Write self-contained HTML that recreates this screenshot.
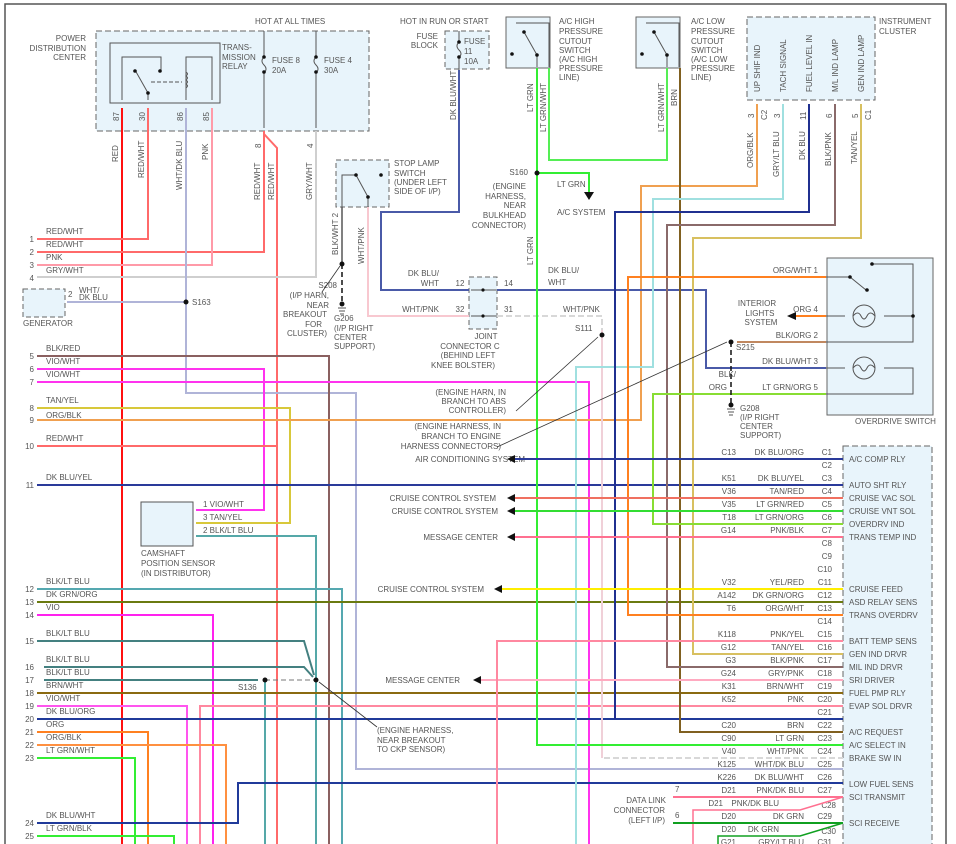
<!DOCTYPE html>
<html><head><meta charset="utf-8"><style>
html,body{margin:0;padding:0;background:#fff}
svg{display:block}
text{font-family:"Liberation Sans",sans-serif;font-size:8px;fill:#555}
.w{fill:none;stroke-width:2}
</style></head><body>
<svg width="956" height="844" viewBox="0 0 956 844" xmlns="http://www.w3.org/2000/svg">
<rect width="956" height="844" fill="#fff"/>
<path d="M5 844V4H946V844" fill="none" stroke="#555" stroke-width="1.5"/>

<rect x="96" y="31" width="273" height="100" fill="#e8f4fb" stroke="#666" stroke-dasharray="6,3"/>
<rect x="110" y="43" width="110" height="60" fill="none" stroke="#555"/>
<text x="86" y="41" text-anchor="end">POWER</text>
<text x="86" y="51" text-anchor="end">DISTRIBUTION</text>
<text x="86" y="60" text-anchor="end">CENTER</text>
<text x="222" y="50">TRANS-</text><text x="222" y="60">MISSION</text><text x="222" y="69">RELAY</text>
<text x="255" y="24">HOT AT ALL TIMES</text>
<path d="M122 100V57H161V71M135 70L148 93M148 93V100M186 100V57H212V100" fill="none" stroke="#555"/>
<path d="M151 82H182" stroke="#555" stroke-dasharray="4,2"/>
<circle cx="135" cy="71" r="1.8" fill="#111"/><circle cx="160" cy="71" r="1.8" fill="#111"/><circle cx="148" cy="93" r="1.8" fill="#111"/>
<path d="M186 72q3 2 0 4q3 2 0 4q3 2 0 4q3 2 0 4" fill="none" stroke="#555"/>
<path d="M264 31V57M264 72V128M316 31V57M316 72V128" stroke="#555"/>
<path d="M264 57q-4 4 0 8q4 4 0 8M316 57q-4 4 0 8q4 4 0 8" fill="none" stroke="#555"/>
<circle cx="264" cy="57" r="1.8" fill="#111"/><circle cx="264" cy="72" r="1.8" fill="#111"/><circle cx="316" cy="57" r="1.8" fill="#111"/><circle cx="316" cy="72" r="1.8" fill="#111"/>
<text x="272" y="63">FUSE 8</text><text x="272" y="73">20A</text>
<text x="324" y="63">FUSE 4</text><text x="324" y="73">30A</text>
<text transform="translate(119,121) rotate(-90)">87</text><text transform="translate(145,121) rotate(-90)">30</text>
<text transform="translate(183,121) rotate(-90)">86</text><text transform="translate(209,121) rotate(-90)">85</text>
<text transform="translate(261,148) rotate(-90)">8</text><text transform="translate(313,148) rotate(-90)">4</text>

<rect x="445" y="31" width="44" height="38" fill="#e8f4fb" stroke="#666" stroke-dasharray="5,3"/>
<text x="400" y="24">HOT IN RUN OR START</text>
<text x="438" y="39" text-anchor="end">FUSE</text><text x="438" y="48" text-anchor="end">BLOCK</text>
<path d="M459 31V42M459 57V70" stroke="#555"/><path d="M459 42q-4 4 0 8q4 4 0 7" fill="none" stroke="#555"/>
<circle cx="459" cy="42" r="1.8" fill="#111"/><circle cx="459" cy="57" r="1.8" fill="#111"/>
<text x="464" y="44">FUSE</text><text x="464" y="54">11</text><text x="464" y="64">10A</text>

<rect x="506" y="17" width="44" height="51" fill="#e8f4fb" stroke="#666"/>
<path d="M516 23H549V67M524 32L537 55V67" fill="none" stroke="#555"/>
<circle cx="524" cy="32" r="1.8" fill="#111"/><circle cx="537" cy="55" r="1.8" fill="#111"/><circle cx="512" cy="54" r="1.8" fill="#111"/>
<text x="559" y="24">A/C HIGH</text><text x="559" y="34">PRESSURE</text><text x="559" y="44">CUTOUT</text><text x="559" y="53">SWITCH</text><text x="559" y="62">(A/C HIGH</text><text x="559" y="71">PRESSURE</text><text x="559" y="80">LINE)</text>
<rect x="636" y="17" width="44" height="51" fill="#e8f4fb" stroke="#666"/>
<path d="M646 23H679V67M654 32L667 55V67" fill="none" stroke="#555"/>
<circle cx="654" cy="32" r="1.8" fill="#111"/><circle cx="667" cy="55" r="1.8" fill="#111"/><circle cx="642" cy="54" r="1.8" fill="#111"/>
<text x="691" y="24">A/C LOW</text><text x="691" y="34">PRESSURE</text><text x="691" y="44">CUTOUT</text><text x="691" y="53">SWITCH</text><text x="691" y="62">(A/C LOW</text><text x="691" y="71">PRESSURE</text><text x="691" y="80">LINE)</text>

<rect x="747" y="17" width="128" height="83" fill="#e8f4fb" stroke="#666" stroke-dasharray="6,3"/>
<text x="879" y="24">INSTRUMENT</text><text x="879" y="34">CLUSTER</text>
<text transform="translate(760,92) rotate(-90)">UP SHIF IND</text>
<text transform="translate(786,92) rotate(-90)">TACH SIGNAL</text>
<text transform="translate(812,92) rotate(-90)">FUEL LEVEL IN</text>
<text transform="translate(838,92) rotate(-90)">M/L IND LAMP</text>
<text transform="translate(864,92) rotate(-90)">GEN IND LAMP</text>
<text transform="translate(754,118) rotate(-90)">3</text><text transform="translate(767,120) rotate(-90)">C2</text>
<text transform="translate(780,118) rotate(-90)">3</text><text transform="translate(806,120) rotate(-90)">11</text>
<text transform="translate(832,118) rotate(-90)">6</text><text transform="translate(858,118) rotate(-90)">5</text><text transform="translate(871,120) rotate(-90)">C1</text>

<g>
<text transform="translate(118,162) rotate(-90)">RED</text>
<text transform="translate(144,178) rotate(-90)">RED/WHT</text>
<text transform="translate(182,190) rotate(-90)">WHT/DK BLU</text>
<text transform="translate(208,160) rotate(-90)">PNK</text>
<text transform="translate(260,200) rotate(-90)">RED/WHT</text>
<text transform="translate(274,200) rotate(-90)">RED/WHT</text>
<text transform="translate(312,200) rotate(-90)">GRY/WHT</text>
<text transform="translate(456,120) rotate(-90)">DK BLU/WHT</text>
<text transform="translate(533,112) rotate(-90)">LT GRN</text>
<text transform="translate(546,132) rotate(-90)">LT GRN/WHT</text>
<text transform="translate(664,132) rotate(-90)">LT GRN/WHT</text>
<text transform="translate(677,106) rotate(-90)">BRN</text>
<text transform="translate(753,168) rotate(-90)">ORG/BLK</text>
<text transform="translate(779,177) rotate(-90)">GRY/LT BLU</text>
<text transform="translate(805,160) rotate(-90)">DK BLU</text>
<text transform="translate(831,166) rotate(-90)">BLK/PNK</text>
<text transform="translate(857,164) rotate(-90)">TAN/YEL</text>
<text transform="translate(533,265) rotate(-90)">LT GRN</text>
<text transform="translate(338,255) rotate(-90)">BLK/WHT 2</text>
<text transform="translate(364,264) rotate(-90)">WHT/PNK</text>
</g>

<rect x="336" y="160" width="53" height="47" fill="#e8f4fb" stroke="#666" stroke-dasharray="5,3"/>
<path d="M342 207V175H356L368 197V207" fill="none" stroke="#555"/>
<circle cx="356" cy="175" r="1.8" fill="#111"/><circle cx="368" cy="197" r="1.8" fill="#111"/><circle cx="381" cy="175" r="1.8" fill="#111"/>
<text x="394" y="166">STOP LAMP</text><text x="394" y="176">SWITCH</text><text x="394" y="185">(UNDER LEFT</text><text x="394" y="194">SIDE OF I/P)</text>

<rect x="23" y="289" width="42" height="28" fill="#e8f4fb" stroke="#666" stroke-dasharray="5,3"/>
<text x="23" y="326">GENERATOR</text>
<text x="68" y="297">2</text><text x="79" y="293">WHT/</text><text x="79" y="300">DK BLU</text>

<rect x="469" y="277" width="28" height="52" fill="#e8f4fb" stroke="#666" stroke-dasharray="5,3"/>
<path d="M471 290H496M471 316H496" stroke="#555"/>
<circle cx="483" cy="290" r="1.6" fill="#111"/><circle cx="483" cy="316" r="1.6" fill="#111"/>
<text x="460" y="286" text-anchor="middle">12</text><text x="460" y="312" text-anchor="middle">32</text>
<text x="504" y="286">14</text><text x="504" y="312">31</text>
<text x="439" y="276" text-anchor="end">DK BLU/</text><text x="439" y="286" text-anchor="end">WHT</text>
<text x="439" y="312" text-anchor="end">WHT/PNK</text>
<text x="486" y="339" text-anchor="middle">JOINT</text><text x="470" y="349" text-anchor="middle">CONNECTOR C</text><text x="468" y="358" text-anchor="middle">(BEHIND LEFT</text><text x="463" y="368" text-anchor="middle">KNEE BOLSTER)</text>

<rect x="827" y="258" width="106" height="157" fill="#e8f4fb" stroke="#666"/>
<text x="855" y="424">OVERDRIVE SWITCH</text>
<path d="M826 277H850L866 290M872 264H913V342H826M826 316H845M884 316H913M826 368H845M884 368H913V394H826" fill="none" stroke="#555"/>
<circle cx="850" cy="277" r="1.8" fill="#111"/><circle cx="867" cy="290" r="1.8" fill="#111"/><circle cx="872" cy="264" r="1.8" fill="#111"/><circle cx="913" cy="316" r="1.8" fill="#111"/>
<circle cx="864" cy="316" r="11" fill="none" stroke="#555"/><circle cx="864" cy="368" r="11" fill="none" stroke="#555"/>
<path d="M853 316q5-6 8 0q3 6 6 0q3-6 8 0M853 368q5-6 8 0q3 6 6 0q3-6 8 0" fill="none" stroke="#555"/>
<text x="818" y="273" text-anchor="end">ORG/WHT  1</text>
<text x="818" y="312" text-anchor="end">ORG  4</text>
<text x="818" y="338" text-anchor="end">BLK/ORG  2</text>
<text x="818" y="364" text-anchor="end">DK BLU/WHT  3</text>
<text x="818" y="390" text-anchor="end">LT GRN/ORG  5</text>
<text x="757" y="306" text-anchor="middle">INTERIOR</text><text x="760" y="316" text-anchor="middle">LIGHTS</text><text x="761" y="325" text-anchor="middle">SYSTEM</text>
<text x="736" y="377" text-anchor="end">BLK/</text><text x="727" y="390" text-anchor="end">ORG</text>
<text x="736" y="350">S215</text>
<text x="740" y="411">G208</text><text x="740" y="420">(I/P RIGHT</text><text x="740" y="429">CENTER</text><text x="740" y="438">SUPPORT)</text>

<rect x="141" y="502" width="52" height="44" fill="#e8f4fb" stroke="#555"/>
<text x="141" y="556">CAMSHAFT</text><text x="141" y="566">POSITION SENSOR</text><text x="141" y="576">(IN DISTRIBUTOR)</text>
<text x="203" y="507">1  VIO/WHT</text><text x="203" y="520">3  TAN/YEL</text><text x="203" y="533">2  BLK/LT BLU</text>

<rect x="843" y="446" width="89" height="400" fill="#e8f4fb" stroke="#666" stroke-dasharray="6,3"/>
<g>
<text x="849" y="462">A/C COMP RLY</text><text x="849" y="488">AUTO SHT RLY</text><text x="849" y="501">CRUISE VAC SOL</text>
<text x="849" y="514">CRUISE VNT SOL</text><text x="849" y="527">OVERDRV IND</text><text x="849" y="540">TRANS TEMP IND</text>
<text x="849" y="592">CRUISE FEED</text><text x="849" y="605">ASD RELAY SENS</text><text x="849" y="618">TRANS OVERDRV</text>
<text x="849" y="644">BATT TEMP SENS</text><text x="849" y="657">GEN IND DRVR</text><text x="849" y="670">MIL IND DRVR</text>
<text x="849" y="683">SRI DRIVER</text><text x="849" y="696">FUEL PMP RLY</text><text x="849" y="709">EVAP SOL DRVR</text>
<text x="849" y="735">A/C REQUEST</text><text x="849" y="748">A/C SELECT IN</text><text x="849" y="761">BRAKE SW IN</text>
<text x="849" y="787">LOW FUEL SENS</text><text x="849" y="800">SCI TRANSMIT</text><text x="849" y="826">SCI RECEIVE</text>
</g>
<g text-anchor="end">
<text x="832" y="455">C1</text><text x="832" y="468">C2</text><text x="832" y="481">C3</text><text x="832" y="494">C4</text><text x="832" y="507">C5</text><text x="832" y="520">C6</text><text x="832" y="533">C7</text><text x="832" y="546">C8</text><text x="832" y="559">C9</text><text x="832" y="572">C10</text><text x="832" y="585">C11</text><text x="832" y="598">C12</text><text x="832" y="611">C13</text><text x="832" y="624">C14</text><text x="832" y="637">C15</text><text x="832" y="650">C16</text><text x="832" y="663">C17</text><text x="832" y="676">C18</text><text x="832" y="689">C19</text><text x="832" y="702">C20</text><text x="832" y="715">C21</text><text x="832" y="728">C22</text><text x="832" y="741">C23</text><text x="832" y="754">C24</text><text x="832" y="767">C25</text><text x="832" y="780">C26</text><text x="832" y="793">C27</text><text x="836" y="808">C28</text><text x="832" y="819">C29</text><text x="836" y="834">C30</text><text x="832" y="845">C31</text>
<text x="804" y="455">DK BLU/ORG</text><text x="804" y="481">DK BLU/YEL</text><text x="804" y="494">TAN/RED</text><text x="804" y="507">LT GRN/RED</text><text x="804" y="520">LT GRN/ORG</text><text x="804" y="533">PNK/BLK</text>
<text x="804" y="585">YEL/RED</text><text x="804" y="598">DK GRN/ORG</text><text x="804" y="611">ORG/WHT</text><text x="804" y="637">PNK/YEL</text><text x="804" y="650">TAN/YEL</text><text x="804" y="663">BLK/PNK</text><text x="804" y="676">GRY/PNK</text><text x="804" y="689">BRN/WHT</text><text x="804" y="702">PNK</text><text x="804" y="728">BRN</text><text x="804" y="741">LT GRN</text><text x="804" y="754">WHT/PNK</text><text x="804" y="767">WHT/DK BLU</text><text x="804" y="780">DK BLU/WHT</text><text x="804" y="793">PNK/DK BLU</text><text x="804" y="819">DK GRN</text><text x="804" y="845">GRY/LT BLU</text>
<text x="736" y="455">C13</text><text x="736" y="481">K51</text><text x="736" y="494">V36</text><text x="736" y="507">V35</text><text x="736" y="520">T18</text><text x="736" y="533">G14</text><text x="736" y="585">V32</text><text x="736" y="598">A142</text><text x="736" y="611">T6</text><text x="736" y="637">K118</text><text x="736" y="650">G12</text><text x="736" y="663">G3</text><text x="736" y="676">G24</text><text x="736" y="689">K31</text><text x="736" y="702">K52</text><text x="736" y="728">C20</text><text x="736" y="741">C90</text><text x="736" y="754">V40</text><text x="736" y="767">K125</text><text x="736" y="780">K226</text><text x="736" y="793">D21</text><text x="736" y="819">D20</text><text x="736" y="845">G21</text>
<text x="779" y="806">PNK/DK BLU</text><text x="723" y="806">D21</text><text x="779" y="832">DK GRN</text><text x="736" y="832">D20</text>
<text x="525" y="462">AIR CONDITIONING SYSTEM</text><text x="496" y="501">CRUISE CONTROL SYSTEM</text><text x="498" y="514">CRUISE CONTROL SYSTEM</text><text x="498" y="540">MESSAGE CENTER</text><text x="484" y="592">CRUISE CONTROL SYSTEM</text><text x="460" y="683">MESSAGE CENTER</text>
<text x="666" y="803">DATA LINK</text><text x="665" y="813">CONNECTOR</text><text x="665" y="823">(LEFT I/P)</text>
<text x="528" y="175">S160</text><text x="526" y="189">(ENGINE</text><text x="526" y="199">HARNESS,</text><text x="526" y="208">NEAR</text><text x="526" y="218">BULKHEAD</text><text x="526" y="228">CONNECTOR)</text>
<text x="337" y="288">S208</text><text x="329" y="298">(I/P HARN,</text><text x="329" y="308">NEAR</text><text x="327" y="317">BREAKOUT</text><text x="322" y="327">FOR</text><text x="327" y="336">CLUSTER)</text>
<text x="506" y="395">(ENGINE HARN, IN</text><text x="506" y="404">BRANCH TO ABS</text><text x="506" y="413">CONTROLLER)</text>
<text x="501" y="429">(ENGINE HARNESS, IN</text><text x="501" y="439">BRANCH TO ENGINE</text><text x="501" y="449">HARNESS CONNECTORS)</text>
</g>
<text x="557" y="187">LT GRN</text><text x="557" y="215">A/C SYSTEM</text>
<text x="548" y="273">DK BLU/</text><text x="548" y="285">WHT</text><text x="563" y="312">WHT/PNK</text><text x="575" y="331">S111</text>
<text x="192" y="305">S163</text>
<text x="334" y="321">G206</text><text x="334" y="331">(I/P RIGHT</text><text x="334" y="340">CENTER</text><text x="334" y="349">SUPPORT)</text>
<text x="238" y="690">S136</text>
<text x="377" y="733">(ENGINE HARNESS,</text><text x="377" y="743">NEAR BREAKOUT</text><text x="377" y="752">TO CKP SENSOR)</text>
<text x="675" y="792">7</text><text x="675" y="818">6</text>

<g>
<text x="46" y="234">RED/WHT</text><text x="46" y="247">RED/WHT</text><text x="46" y="260">PNK</text><text x="46" y="273">GRY/WHT</text>
<text x="46" y="351">BLK/RED</text><text x="46" y="364">VIO/WHT</text><text x="46" y="377">VIO/WHT</text><text x="46" y="403">TAN/YEL</text><text x="46" y="418">ORG/BLK</text><text x="46" y="441">RED/WHT</text><text x="46" y="480">DK BLU/YEL</text>
<text x="46" y="584">BLK/LT BLU</text><text x="46" y="597">DK GRN/ORG</text><text x="46" y="610">VIO</text><text x="46" y="636">BLK/LT BLU</text><text x="46" y="662">BLK/LT BLU</text><text x="46" y="675">BLK/LT BLU</text><text x="46" y="688">BRN/WHT</text><text x="46" y="701">VIO/WHT</text><text x="46" y="714">DK BLU/ORG</text><text x="46" y="727">ORG</text><text x="46" y="740">ORG/BLK</text><text x="46" y="753">LT GRN/WHT</text><text x="46" y="818">DK BLU/WHT</text><text x="46" y="831">LT GRN/BLK</text>
</g>
<g text-anchor="end">
<text x="34" y="242">1</text><text x="34" y="255">2</text><text x="34" y="268">3</text><text x="34" y="281">4</text><text x="34" y="359">5</text><text x="34" y="372">6</text><text x="34" y="385">7</text><text x="34" y="411">8</text><text x="34" y="423">9</text><text x="34" y="449">10</text><text x="34" y="488">11</text><text x="34" y="592">12</text><text x="34" y="605">13</text><text x="34" y="618">14</text><text x="34" y="644">15</text><text x="34" y="670">16</text><text x="34" y="683">17</text><text x="34" y="696">18</text><text x="34" y="709">19</text><text x="34" y="722">20</text><text x="34" y="735">21</text><text x="34" y="748">22</text><text x="34" y="761">23</text><text x="34" y="826">24</text><text x="34" y="839">25</text>
</g>

<g class="w">
<path d="M122 108V844" stroke="#ff1010"/>
<path d="M37 239H148V108" stroke="#ff6a6a"/>
<path d="M37 252H264V131" stroke="#ff6a6a"/>
<path d="M264 134L277 148V844" stroke="#ff6a6a"/>
<path d="M37 265H212V108" stroke="#ff9aa8"/>
<path d="M37 277H316V131" stroke="#cfcfcf"/>
<path d="M186 108V393H356V769H843" stroke="#b0b4d8"/>
<path d="M67 302H186" stroke="#b0b4d8"/>
<path d="M37 356H329V844" stroke="#8a6060"/>
<path d="M37 369H264V510H196" stroke="#ff33ee"/>
<path d="M37 382H589V844" stroke="#ff33ee"/>
<path d="M37 408H290V523H196" stroke="#d8c83a"/>
<path d="M37 420H641V186H757V104" stroke="#f0a050"/>
<path d="M37 446H277" stroke="#ff6a6a"/>
<path d="M37 485H843" stroke="#2a3a9a"/>
<path d="M196 536H316V844" stroke="#55a8a8"/>
<path d="M37 589H342V844" stroke="#55a8b0"/>
<path d="M37 602H843" stroke="#6a7a10"/>
<path d="M37 615H213V844" stroke="#ff22ee"/>
<path d="M37 641H304L314 675" stroke="#448080"/>
<path d="M44 667H304L313 677" stroke="#448080"/>
<path d="M44 680H258" stroke="#448080"/>
<path d="M265 680V844" stroke="#55a8a8"/>
<path d="M37 693H843" stroke="#8a6a10"/>
<path d="M37 706H187V844" stroke="#ff55ee"/>
<path d="M200 844V706H843" stroke="#ff88a0"/>
<path d="M37 719H843" stroke="#203a9a"/>
<path d="M37 732H148V844" stroke="#ff8020"/>
<path d="M37 745H226V844" stroke="#ff9040"/>
<path d="M37 758H135V844" stroke="#33ee33"/>
<path d="M37 823H238V783H843" stroke="#203a9a"/>
<path d="M37 836H174V844" stroke="#33ee33"/>
<path d="M459 70V212H381V290H469" stroke="#4a5aa8"/>
<path d="M342 207V264" stroke="#555" stroke-width="1.5"/>
<path d="M368 207V316H469" stroke="#f8c8d0"/>
<path d="M497 316H602V758H843" stroke="#d8d8d8" stroke-dasharray="6,3"/>
<path d="M602 330V758" stroke="#f0d0d8"/>
<path d="M497 290H706V368H826" stroke="#4a5aa8"/>
<path d="M537 68V745H843" stroke="#33ee33"/>
<path d="M537 173H589V192" stroke="#33ee33"/>
<path d="M549 68V160H667V68" stroke="#55ee55"/>
<path d="M680 68V732H843" stroke="#806020"/>
<path d="M783 104V199H653V367H576V844" stroke="#a0e0e0"/>
<path d="M809 104V212H615V719" stroke="#203090"/>
<path d="M835 104V225H667V667H843" stroke="#8a6a6a"/>
<path d="M861 104V238H693V654H843" stroke="#d8c060"/>
<path d="M826 277H628V615H843" stroke="#ff8020"/>
<path d="M826 316H796" stroke="#ff8020"/>
<path d="M737 342H826" stroke="#c08860"/>
<path d="M826 394H653V524H843" stroke="#88dd33"/>
<path d="M843 459H515" stroke="#2a3a9a"/>
<path d="M843 498H515" stroke="#f07060"/>
<path d="M843 511H515" stroke="#33dd33"/>
<path d="M843 537H515" stroke="#ff7090"/>
<path d="M843 589H502" stroke="#ffee00"/>
<path d="M843 680H481" stroke="#ffaac0"/>
<path d="M497 844V641H843" stroke="#ff88a0"/>
<path d="M673 797H843" stroke="#ff7090"/>
<path d="M843 797L800 810H693V844" stroke="#ff7090" stroke-width="1.5"/>
<path d="M673 823H843" stroke="#10a020"/>
<path d="M843 823L800 836H718V844" stroke="#10a020" stroke-width="1.5"/>
</g>
<path d="M342 264V304M731 342V405" stroke="#111" stroke-width="1.5" stroke-dasharray="5,3"/>
<path d="M265 680H316" stroke="#777" stroke-dasharray="5,3"/>
<g fill="#111">
<circle cx="342" cy="264" r="2.5"/><circle cx="342" cy="304" r="2.5"/><circle cx="731" cy="342" r="2.5"/><circle cx="731" cy="405" r="2.5"/>
<circle cx="186" cy="302" r="2.5"/><circle cx="537" cy="173" r="2.5"/><circle cx="602" cy="335" r="2.5"/><circle cx="265" cy="680" r="2.5"/><circle cx="316" cy="680" r="2.5"/>
<path d="M584 192H594L589 200Z"/><path d="M787 316L796 312V320Z"/>
<path d="M507 459L515 455V463Z"/><path d="M507 498L515 494V502Z"/><path d="M507 511L515 507V515Z"/><path d="M507 537L515 533V541Z"/><path d="M494 589L502 585V593Z"/><path d="M473 680L481 676V684Z"/>
</g>
<path d="M338 308h8M339 311h6M340 314h4M727 409h8M728 412h6M729 415h4" stroke="#555"/>
<path d="M322 292L340 266M516 411L598 337M497 447L727 342M377 727L319 682" stroke="#333" stroke-width="0.8"/>
</svg>
</body></html>
